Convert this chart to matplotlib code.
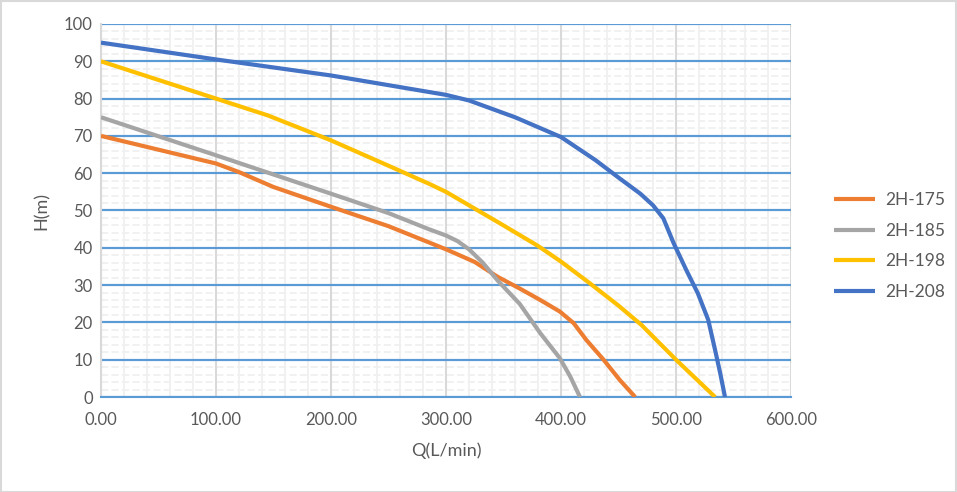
import matplotlib
matplotlib.use("Agg")
import matplotlib.pyplot as plt
from matplotlib.ticker import MultipleLocator, FormatStrFormatter
from matplotlib.patches import Rectangle

plt.rcParams['font.family'] = ['Lato', 'DejaVu Sans']

series_names = ["2H-175", "2H-185", "2H-198", "2H-208"]
colors = ["#ED7D31", "#A5A5A5", "#FFC000", "#4472C4"]

q_175 = [0, 50, 100, 120, 150, 200, 250, 300, 325, 345, 364, 382, 399, 411, 422, 437, 451, 464.5]
h_175 = [70, 66.3, 62.6, 60.3, 56.3, 51, 45.8, 39.6, 36.2, 32.2, 29.1, 26, 22.9, 19.8, 15.3, 10, 4.6, 0]

q_185 = [0, 100, 200, 250, 285, 300, 310, 320, 332, 345, 364, 382, 399, 408, 416.5]
h_185 = [75, 64.8, 54.5, 49.3, 45, 43.3, 41.8, 39.6, 36, 31.2, 25, 17.1, 10.4, 5.5, 0]

q_198 = [0, 50, 100, 145, 200, 250, 285, 300, 325, 350, 380, 400, 425, 450, 470, 500, 534]
h_198 = [90, 85, 80, 75.5, 68.8, 62, 57.2, 55, 50.5, 46, 40.5, 36.3, 30.5, 24.5, 19.3, 10, 0]

q_208 = [0, 100, 200, 300, 320, 360, 400, 430, 451, 469, 480, 489, 498, 509, 519, 528, 534, 538.5, 542.6]
h_208 = [95, 90.5, 86.2, 81, 79.5, 75, 69.7, 63.5, 58.6, 54.5, 51.4, 47.9, 41.2, 34, 27.8, 20.7, 12.6, 6.3, 0]

qs = [q_175, q_185, q_198, q_208]
hs = [h_175, h_185, h_198, h_208]

W, H = 957, 492
fig = plt.figure(figsize=(W / 100, H / 100), dpi=100)
ax = fig.add_axes([101 / W, (H - 397) / H, (791 - 101) / W, (397 - 24) / H])

ax.set_xlim(0, 600)
ax.set_ylim(0, 100)
ax.xaxis.set_major_locator(MultipleLocator(100))
ax.xaxis.set_minor_locator(MultipleLocator(20))
ax.yaxis.set_major_locator(MultipleLocator(10))
ax.yaxis.set_minor_locator(MultipleLocator(2))
ax.xaxis.set_major_formatter(FormatStrFormatter('%.2f'))

ax.grid(which='minor', axis='x', color='#F0F0F0', linewidth=1.3)
ax.grid(which='minor', axis='y', color='#F0F0F0', linewidth=1.3, linestyle=(0, (4, 1.8)))
ax.grid(which='major', axis='y', color='#5B9BD5', linewidth=1.5)
ax.set_axisbelow(True)

# major vertical gridlines drawn above the minor dashed grid
ax.vlines(ax.get_xticks()[1:], 0, 100, colors='#D9D9D9', linewidth=1.5, zorder=1)
ax.hlines(ax.get_yticks()[1:], 0, 600, colors='#5B9BD5', linewidth=1.5, zorder=1.1)

for s in ['top', 'right']:
    ax.spines[s].set_visible(False)
ax.spines['left'].set_color('#D9D9D9')
ax.spines['left'].set_linewidth(1.5)
ax.spines['bottom'].set_color('#5B9BD5')
ax.spines['bottom'].set_linewidth(1.5)

ax.tick_params(which='both', length=0, labelsize=12, colors='#595959')
ax.tick_params(axis='x', pad=11)
ax.tick_params(axis='y', pad=6)

for name, c, q, h in zip(series_names, colors, qs, hs):
    ax.plot(q, h, color=c, linewidth=3, label=name, solid_joinstyle='round',
            solid_capstyle='butt', zorder=3)

ax.set_xlabel('Q(L/min)', fontsize=13, color='#595959', labelpad=10)
ax.set_ylabel('H(m)', fontsize=13, color='#595959', labelpad=10)

leg = fig.legend(loc='center left', bbox_to_anchor=(818 / W, (H - 246) / H), frameon=False,
                 fontsize=12.5, handlelength=2.4, labelspacing=0.85, handletextpad=0.6)
for t in leg.get_texts():
    t.set_color('#595959')

fig.patches.append(Rectangle((0.5 / W, 0.5 / H), 1 - 1.5 / W, 1 - 1.5 / H, transform=fig.transFigure,
                             fill=False, edgecolor='#D9D9D9', linewidth=1.5))

fig.savefig('out.png', dpi=100)
